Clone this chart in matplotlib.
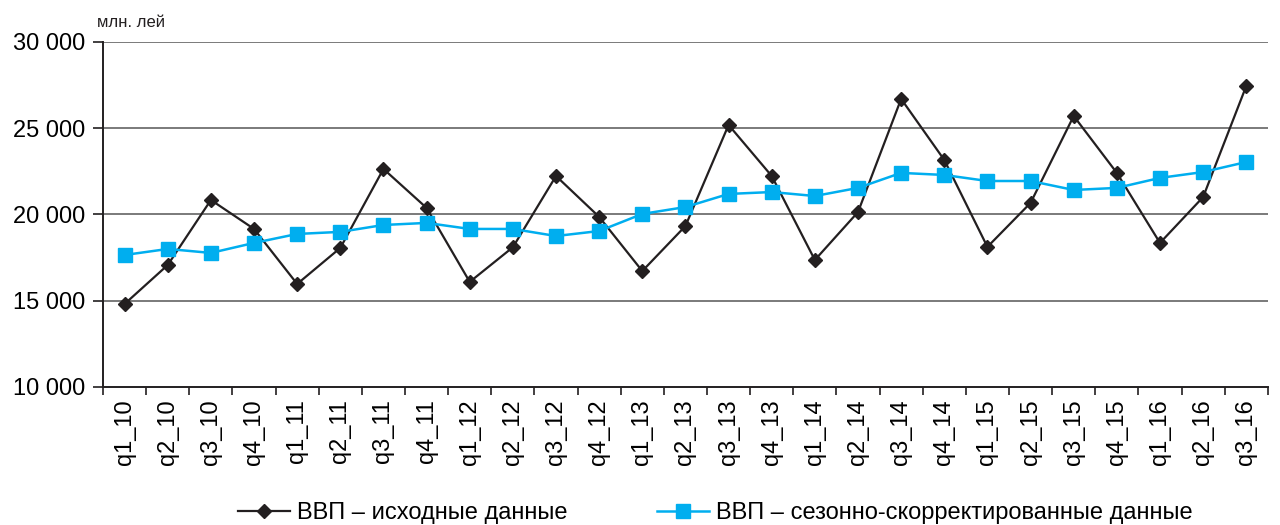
import matplotlib
matplotlib.use("Agg")
import matplotlib.pyplot as plt
from matplotlib.ticker import FuncFormatter

categories = ["q1_10", "q2_10", "q3_10", "q4_10",
              "q1_11", "q2_11", "q3_11", "q4_11",
              "q1_12", "q2_12", "q3_12", "q4_12",
              "q1_13", "q2_13", "q3_13", "q4_13",
              "q1_14", "q2_14", "q3_14", "q4_14",
              "q1_15", "q2_15", "q3_15", "q4_15",
              "q1_16", "q2_16", "q3_16"]

gdp_raw = [14810, 17070, 20840, 19160,
           15970, 18060, 22640, 20380,
           16090, 18100, 22230, 19860,
           16720, 19330, 25190, 22230,
           17360, 20140, 26700, 23160,
           18120, 20670, 25710, 22410,
           18350, 21010, 27450]

gdp_sa = [17650, 18000, 17770, 18350,
          18870, 18990, 19390, 19510,
          19160, 19160, 18750, 19040,
          20030, 20430, 21190, 21300,
          21070, 21540, 22410, 22290,
          21940, 21940, 21420, 21540,
          22120, 22460, 23040]

y_ticks = [10000, 15000, 20000, 25000, 30000]

plt.rcParams['font.family'] = ['Liberation Sans', 'DejaVu Sans']

fig = plt.figure(figsize=(12.8, 5.25), dpi=100)
ax = fig.add_axes([0.0805, 0.263, 0.91, 0.657])

x = list(range(len(categories)))
ax.plot(x, gdp_raw, color="#231f20", lw=1.6, marker="D", ms=7.5,
        label="ВВП – исходные данные", zorder=3)
ax.plot(x, gdp_sa, color="#00aeef", lw=1.8, marker="s", ms=10,
        label="ВВП – сезонно-скорректированные данные", zorder=4)

ax.set_xlim(-0.5, len(categories) - 0.5)
ax.set_ylim(10000, 30000)
ax.set_yticks(y_ticks)
ax.yaxis.set_major_formatter(FuncFormatter(lambda v, p: f"{int(v):,}".replace(",", " ")))
for yt in y_ticks[1:]:
    ax.axhline(yt, color="#7a7a7a", lw=1.4, zorder=1)

ax.set_xticks(x)
ax.set_xticklabels(categories, rotation=90, fontsize=17)
ax.set_xticks([i - 0.5 for i in range(len(categories) + 1)], minor=True)
ax.tick_params(axis="x", which="major", length=0, pad=9)
ax.tick_params(axis="x", which="minor", length=6, width=1.2, color="#231f20", direction="out")
ax.tick_params(axis="y", which="major", length=7, width=1.2, color="#231f20", labelsize=17, pad=6)

for s in ["top", "right"]:
    ax.spines[s].set_visible(False)
for s in ["left", "bottom"]:
    ax.spines[s].set_color("#231f20")
    ax.spines[s].set_linewidth(1.4)

fig.text(0.076, 0.943, "млн. лей", fontsize=12, color="#231f20", ha="left", va="bottom")

fig.legend(loc="center", bbox_to_anchor=(0.559, 0.022), ncol=2, frameon=False,
           fontsize=17, columnspacing=3.8, handlelength=2.2, handletextpad=0.3)

fig.savefig("out.png", dpi=100)
